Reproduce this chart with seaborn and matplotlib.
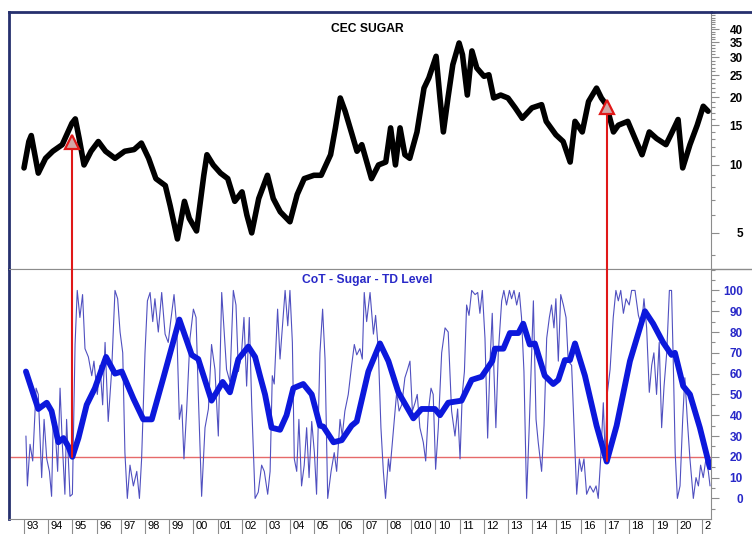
import numpy as np
import pandas as pd
import matplotlib
matplotlib.use("Agg")
import matplotlib.pyplot as plt
import matplotlib.ticker as mticker
from matplotlib.lines import Line2D
from matplotlib.transforms import ScaledTranslation
import seaborn as sns

# --- data (decimal years) ---
price_years = [1993.00, 1993.20, 1993.30, 1993.59, 1993.89, 1994.19, 1994.58, 1994.98, 1995.12, 1995.28,
               1995.48, 1995.77, 1996.07, 1996.37, 1996.76, 1997.16, 1997.55, 1997.85, 1998.15, 1998.45,
               1998.84, 1999.04, 1999.34, 1999.63, 1999.83, 2000.13, 2000.43, 2000.56, 2000.82, 2001.12,
               2001.42, 2001.71, 2002.01, 2002.21, 2002.41, 2002.70, 2003.06, 2003.30, 2003.59, 2003.99,
               2004.29, 2004.58, 2004.98, 2005.28, 2005.67, 2005.87, 2006.07, 2006.27, 2006.56, 2006.76,
               2006.96, 2007.36, 2007.65, 2007.95, 2008.15, 2008.35, 2008.54, 2008.74, 2008.94, 2009.24,
               2009.53, 2009.73, 2010.03, 2010.19, 2010.33, 2010.52, 2010.72, 2010.98, 2011.12, 2011.32,
               2011.51, 2011.71, 2012.01, 2012.21, 2012.41, 2012.70, 2013.00, 2013.30, 2013.59, 2013.99,
               2014.39, 2014.58, 2014.98, 2015.28, 2015.57, 2015.77, 2016.07, 2016.33, 2016.66, 2016.86,
               2017.06, 2017.36, 2017.56, 2017.95, 2018.25, 2018.54, 2018.84, 2019.14, 2019.53, 2019.73,
               2020.03, 2020.22, 2020.52, 2020.82, 2021.07, 2021.27]
price = [9.7, 12.7, 13.5, 9.2, 10.7, 11.5, 12.3, 15.3, 16.0, 13.1,
         10.0, 11.5, 12.7, 11.5, 10.7, 11.5, 11.7, 12.5, 10.7, 8.7,
         8.1, 6.6, 4.7, 6.9, 5.8, 5.1, 9.0, 11.1, 10.0, 9.2,
         8.7, 6.9, 7.6, 6.0, 5.0, 7.1, 9.0, 7.1, 6.2, 5.6,
         7.4, 8.7, 9.0, 9.0, 11.1, 14.6, 19.8, 17.3, 13.6, 11.5,
         12.3, 8.7, 10.0, 10.3, 14.6, 10.0, 14.6, 11.1, 10.7, 14.0,
         21.9, 24.3, 30.3, 19.8, 14.0, 19.8, 27.8, 34.7, 30.8, 20.4,
         32.0, 26.9, 24.7, 25.1, 19.8, 20.4, 19.8, 17.9, 16.1, 17.9,
         18.5, 15.6, 13.6, 12.7, 10.3, 15.6, 14.0, 19.1, 21.9, 19.8,
         18.5, 14.0, 15.0, 15.6, 13.1, 11.1, 14.0, 13.1, 12.3, 13.6,
         15.9, 9.7, 12.3, 15.0, 18.2, 17.3]

cot_years = [1993.08, 1993.14, 1993.25, 1993.36, 1993.50, 1993.59, 1993.73, 1993.83, 1993.94, 1994.05,
             1994.14, 1994.21, 1994.32, 1994.39, 1994.49, 1994.58, 1994.69, 1994.76, 1994.90, 1995.00,
             1995.11, 1995.20, 1995.31, 1995.42, 1995.52, 1995.66, 1995.80, 1995.89, 1996.03, 1996.14,
             1996.25, 1996.35, 1996.48, 1996.62, 1996.76, 1996.87, 1996.97, 1997.08, 1997.17, 1997.27,
             1997.38, 1997.52, 1997.66, 1997.77, 1997.86, 1998.00, 1998.10, 1998.21, 1998.32, 1998.41,
             1998.55, 1998.69, 1998.83, 1998.96, 1999.06, 1999.20, 1999.31, 1999.42, 1999.52, 1999.61,
             1999.72, 1999.86, 2000.00, 2000.11, 2000.20, 2000.34, 2000.48, 2000.62, 2000.75, 2000.89,
             2001.03, 2001.17, 2001.26, 2001.37, 2001.51, 2001.65, 2001.76, 2001.86, 2001.99, 2002.09,
             2002.20, 2002.31, 2002.41, 2002.55, 2002.68, 2002.82, 2002.93, 2003.07, 2003.17, 2003.26,
             2003.34, 2003.48, 2003.58, 2003.68, 2003.79, 2003.90, 2003.99, 2004.09, 2004.17, 2004.27,
             2004.36, 2004.47, 2004.58, 2004.68, 2004.78, 2004.89, 2005.00, 2005.09, 2005.23, 2005.34,
             2005.44, 2005.55, 2005.69, 2005.82, 2005.92, 2006.06, 2006.15, 2006.26, 2006.40, 2006.54,
             2006.65, 2006.75, 2006.88, 2006.98, 2007.06, 2007.16, 2007.30, 2007.44, 2007.53, 2007.64,
             2007.75, 2007.85, 2007.94, 2008.06, 2008.12, 2008.26, 2008.40, 2008.50, 2008.61, 2008.74,
             2008.85, 2008.95, 2009.05, 2009.16, 2009.25, 2009.36, 2009.50, 2009.60, 2009.71, 2009.82,
             2009.91, 2010.01, 2010.12, 2010.26, 2010.40, 2010.53, 2010.67, 2010.81, 2010.92, 2011.02,
             2011.11, 2011.20, 2011.29, 2011.39, 2011.50, 2011.64, 2011.75, 2011.84, 2011.94, 2012.05,
             2012.16, 2012.26, 2012.35, 2012.42, 2012.50, 2012.60, 2012.74, 2012.83, 2012.94, 2013.06,
             2013.15, 2013.25, 2013.36, 2013.47, 2013.56, 2013.66, 2013.77, 2013.88, 2013.98, 2014.05,
             2014.16, 2014.25, 2014.39, 2014.49, 2014.60, 2014.71, 2014.80, 2014.90, 2014.98, 2015.08,
             2015.18, 2015.29, 2015.40, 2015.49, 2015.63, 2015.73, 2015.84, 2015.95, 2016.04, 2016.14,
             2016.25, 2016.39, 2016.53, 2016.64, 2016.73, 2016.83, 2016.94, 2017.02, 2017.10, 2017.22,
             2017.35, 2017.46, 2017.56, 2017.66, 2017.77, 2017.88, 2018.01, 2018.11, 2018.25, 2018.39,
             2018.52, 2018.62, 2018.73, 2018.84, 2018.94, 2019.03, 2019.14, 2019.25, 2019.35, 2019.45,
             2019.56, 2019.67, 2019.76, 2019.83, 2019.91, 2020.00, 2020.11, 2020.22, 2020.31, 2020.41,
             2020.52, 2020.66, 2020.77, 2020.87, 2020.96, 2021.07, 2021.18, 2021.28, 2021.35]
cot = [30, 6, 26, 18, 53, 50, 10, 38, 19, 13,
       1, 38, 27, 13, 53, 27, 2, 38, 1, 2,
       74, 100, 87, 98, 72, 68, 59, 66, 50, 64,
       45, 75, 37, 61, 100, 96, 80, 70, 22, 0,
       16, 6, 13, 0, 19, 70, 95, 99, 85, 96,
       80, 99, 79, 75, 85, 98, 83, 38, 45, 19,
       42, 77, 91, 87, 51, 1, 34, 43, 74, 62,
       30, 99, 82, 62, 56, 100, 93, 61, 70, 87,
       54, 87, 45, 0, 3, 16, 13, 2, 13, 59,
       55, 91, 67, 83, 100, 83, 100, 75, 19, 13,
       38, 6, 16, 34, 10, 37, 22, 2, 70, 91,
       67, 0, 13, 22, 13, 38, 30, 42, 50, 64,
       74, 69, 72, 67, 99, 85, 99, 79, 88, 72,
       34, 13, 0, 19, 13, 32, 51, 42, 45, 58,
       62, 66, 42, 46, 50, 34, 27, 18, 42, 53,
       50, 14, 34, 70, 82, 80, 42, 30, 43, 19,
       50, 61, 93, 88, 100, 98, 99, 89, 100, 77,
       29, 66, 89, 61, 34, 70, 95, 100, 93, 100,
       96, 100, 93, 99, 87, 61, 0, 35, 70, 95,
       38, 27, 13, 35, 77, 87, 93, 82, 96, 66,
       98, 93, 87, 66, 64, 35, 2, 19, 13, 19,
       2, 6, 3, 6, 0, 19, 46, 19, 50, 62,
       87, 100, 95, 100, 89, 96, 93, 100, 100, 88,
       83, 96, 82, 51, 64, 70, 50, 75, 34, 54,
       70, 100, 100, 66, 22, 0, 6, 38, 58, 38,
       19, 0, 10, 6, 16, 10, 19, 13, 6]

smooth_years = [1993.08, 1993.39, 1993.59, 1993.94, 1994.14, 1994.42, 1994.63, 1994.83, 1995.00, 1995.25,
                1995.59, 1995.93, 1996.39, 1996.76, 1997.04, 1997.52, 1997.93, 1998.28, 1998.76, 1999.42,
                1999.93, 2000.20, 2000.75, 2001.21, 2001.51, 2001.86, 2002.27, 2002.55, 2002.75, 2002.96,
                2003.23, 2003.58, 2003.85, 2004.13, 2004.54, 2004.89, 2005.23, 2005.37, 2005.79, 2006.13,
                2006.54, 2006.75, 2007.23, 2007.71, 2008.06, 2008.47, 2009.09, 2009.43, 2009.98, 2010.19,
                2010.53, 2011.08, 2011.50, 2011.91, 2012.35, 2012.46, 2012.81, 2013.08, 2013.43, 2013.63,
                2013.90, 2014.11, 2014.52, 2014.87, 2015.08, 2015.35, 2015.56, 2015.77, 2016.18, 2016.66,
                2017.08, 2017.49, 2018.04, 2018.66, 2019.00, 2019.41, 2019.76, 2019.90, 2020.24, 2020.52,
                2020.93, 2021.34]
smooth = [61, 50, 43, 46, 42, 27, 29, 25, 20, 29,
          45, 53, 68, 60, 61, 48, 38, 38, 58, 86,
          69, 67, 47, 56, 51, 67, 73, 68, 59, 50,
          34, 33, 40, 53, 55, 50, 35, 34.5, 27, 28,
          35, 37, 61, 74.5, 66, 51, 38.5, 43, 43, 40,
          46, 47, 57, 58.5, 66, 72, 72, 79.5, 79.5, 84,
          74, 74.5, 59, 55, 57, 66.5, 66.5, 74.5, 59, 35,
          17.7, 35, 66, 90, 84, 75, 69, 70, 54, 50,
          34, 15]

year_labels = ["93", "94", "95", "96", "97", "98", "99", "00", "01", "02", "03", "04", "05", "06",
               "07", "08", "010", "10", "11", "12", "13", "14", "15", "16", "17", "18", "19", "20", "2"]

signal_years = [1995.0, 2017.08]
signal_price = [12.6, 18.0]
signal_cot = [20, 18]
cot_threshold = 20

price_ticks = [5, 10, 15, 20, 25, 30, 35, 40]
cot_ticks = [0, 10, 20, 30, 40, 50, 60, 70, 80, 90, 100]

sns.set_style("white")
plt.rcParams["font.family"] = ["Liberation Sans", "DejaVu Sans"]

W, H = 752, 534
fig = plt.figure(figsize=(W / 100, H / 100), dpi=100)
L, R, T, MID, B = 9, 711, 12, 269, 519
ax1 = fig.add_axes([L / W, 1 - MID / H, (R - L) / W, (MID - T) / H])
ax2 = fig.add_axes([L / W, 1 - B / H, (R - L) / W, (B - MID) / H], sharex=ax1)

navy = "#26306e"
grey = "#8c8c8c"
blue_txt = "#2828c8"

# --- top: price (log) ---
price_df = pd.DataFrame({"year": price_years, "price": price})
sns.lineplot(data=price_df, x="year", y="price", ax=ax1, color="black", linewidth=4.0)
ax1.set_yscale("log")
ax1.set_ylim(3.46, 47.6)
ax1.yaxis.set_major_locator(mticker.FixedLocator(price_ticks))
ax1.yaxis.set_major_formatter(mticker.FixedFormatter([str(t) for t in price_ticks]))
ax1.yaxis.set_minor_locator(mticker.FixedLocator([v for v in range(4, 48) if v not in price_ticks]))
ax1.yaxis.set_minor_formatter(mticker.NullFormatter())
ax1.text(0.51, 0.934, "CEC SUGAR", transform=ax1.transAxes, ha="center", va="center",
         fontsize=8.7, fontweight="bold", color="black")

# --- bottom: CoT level ---
cot_df = pd.DataFrame({"year": cot_years, "cot": cot})
smooth_df = pd.DataFrame({"year": smooth_years, "cot": smooth})
sns.lineplot(data=cot_df, x="year", y="cot", ax=ax2, color="#5050c0", linewidth=0.8)
sns.lineplot(data=smooth_df, x="year", y="cot", ax=ax2, color="#0c18dc", linewidth=4.2)
ax2.axhline(cot_threshold, color="#e66a6a", linewidth=1.0, zorder=1)
ax2.set_ylim(-9.9, 110.3)
ax2.yaxis.set_major_locator(mticker.FixedLocator(cot_ticks))
ax2.yaxis.set_minor_locator(mticker.MultipleLocator(5))
ax2.text(0.51, 0.956, "CoT - Sugar - TD Level", transform=ax2.transAxes, ha="center", va="center",
         fontsize=8.7, fontweight="bold", color=blue_txt)

# --- red signal arrows ---
for yr, p, c in zip(signal_years, signal_price, signal_cot):
    ax1.plot([yr, yr], [1, p * 0.97], color="#e01818", linewidth=1.5, zorder=4)
    ax1.plot(yr, p, marker="^", markersize=10, markerfacecolor="#d2a8a8",
             markeredgecolor="#e01818", markeredgewidth=1.6, zorder=5)
    ax2.plot([yr, yr], [c, 200], color="#e01818", linewidth=1.5, zorder=4)

# --- axes styling ---
ax1.set_xlim(1992.38, 2021.39)
for ax, col in [(ax1, "black"), (ax2, blue_txt)]:
    ax.set_xlabel("")
    ax.set_ylabel("")
    ax.yaxis.tick_right()
    ax.tick_params(axis="y", which="major", direction="out", length=6, width=0.8, color=grey,
                   pad=17, labelsize=8.5, labelcolor=col)
    ax.tick_params(axis="y", which="minor", direction="out", length=3, width=0.8, color=grey)
    for lab in ax.get_yticklabels():
        lab.set_horizontalalignment("right")
        lab.set_fontweight("bold")
    ax.spines["left"].set_color(navy)
    ax.spines["left"].set_linewidth(2)
    ax.spines["right"].set_color(grey)
    ax.spines["bottom"].set_color(grey)
    ax.spines["top"].set_color(grey)
    for s in ax.spines.values():
        s.set_visible(True)
ax1.spines["top"].set_color(navy)
ax1.spines["top"].set_linewidth(2)
ax1.tick_params(axis="x", which="both", bottom=False, labelbottom=False)

years = list(range(1993, 1993 + len(year_labels)))
ax2.set_xticks(years)
ax2.set_xticklabels(year_labels)
ax2.tick_params(axis="x", which="major", bottom=True, direction="out", length=11, width=0.8,
                color=grey, pad=-9.5, labelsize=8, labelcolor="black")
shift = ScaledTranslation(2.5 / 100, 0, fig.dpi_scale_trans)
for lab in ax2.get_xticklabels():
    lab.set_horizontalalignment("left")
    lab.set_transform(lab.get_transform() + shift)

# frame lines that run past the plot on the right
fig.add_artist(Line2D([R / W, 1], [1 - T / H, 1 - T / H], color=navy, linewidth=2))
fig.add_artist(Line2D([R / W, 1], [1 - MID / H, 1 - MID / H], color=grey, linewidth=1))

fig.savefig("out.png", dpi=100)
